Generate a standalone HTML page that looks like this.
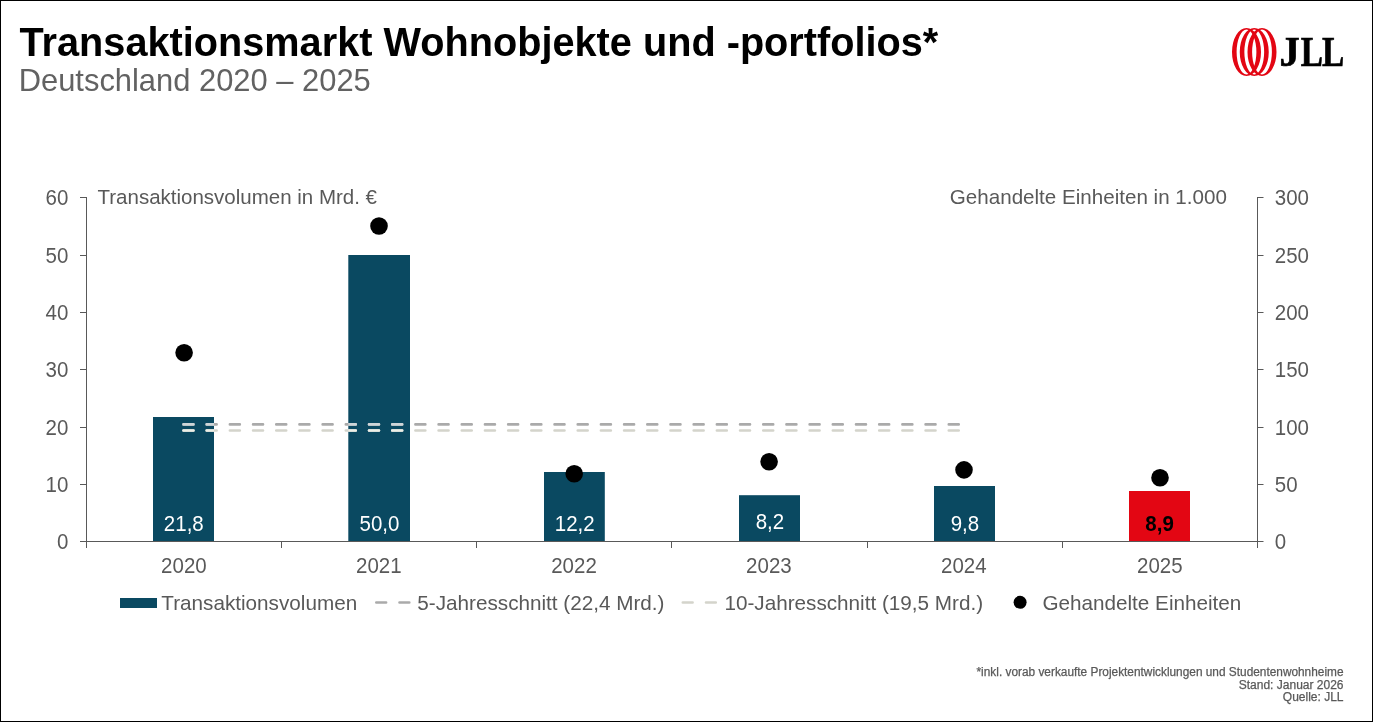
<!DOCTYPE html>
<html lang="de">
<head>
<meta charset="utf-8">
<title>Transaktionsmarkt Wohnobjekte und -portfolios</title>
<style>
html,body{margin:0;padding:0;background:#fff;}
body{width:1373px;height:722px;overflow:hidden;position:relative;font-family:"Liberation Sans",Arial,sans-serif;}
#frame{position:absolute;left:0;top:0;width:1371px;height:720px;border:1px solid #000;}
svg{position:absolute;left:0;top:0;}
svg text{font-family:"Liberation Sans",Arial,sans-serif;}
.ax{fill:#595959;font-size:20.5px;}
.lbl{fill:#fff;font-size:20.5px;}
.lg{fill:#595959;font-size:20.7px;}
.serif{font-family:"Liberation Serif","Times New Roman",serif;}
</style>
</head>
<body>
<div id="frame"></div>
<svg width="1373" height="722" viewBox="0 0 1373 722">
<!-- titles -->
<text transform="translate(19.5 55.7) scale(1 1.025)" font-size="39.7" font-weight="bold" fill="#000">Transaktionsmarkt Wohnobjekte und -portfolios*</text>
<text x="18.7" y="90.8" font-size="30.9" fill="#626262">Deutschland 2020 – 2025</text>
<!-- bars -->
<g fill="#0a4961">
<rect x="153" y="417" width="61" height="124.50"/>
<rect x="348.3" y="255" width="61.7" height="286.50"/>
<rect x="544" y="472" width="60.8" height="69.50"/>
<rect x="739" y="495.2" width="61" height="46.30"/>
<rect x="934" y="486" width="61" height="55.50"/>
</g>
<rect x="1129" y="491" width="61" height="50.50" fill="#e30613"/>
<!-- axes -->
<g stroke="#595959" stroke-width="1" fill="none">
<path d="M86.5 197V548"/>
<path d="M1257.5 197V548"/>
<path d="M80 541.5H1263.5"/>
<path d="M80 197.50H87M80 255.50H87M80 312.50H87M80 369.50H87M80 427.50H87M80 484.50H87"/>
<path d="M1257 197.50H1263.5M1257 255.50H1263.5M1257 312.50H1263.5M1257 369.50H1263.5M1257 427.50H1263.5M1257 484.50H1263.5"/>
<path d="M281.50 541V548M476.50 541V548M671.50 541V548M867.50 541V548M1062.50 541V548"/>
</g>
<!-- average lines -->
<path d="M183.5 424.4H958.8" stroke="#aaaaaa" stroke-width="2.6" stroke-dasharray="9.95 13.24" stroke-linecap="round" fill="none"/>
<path d="M183.5 430.5H958.8" stroke="#d4d4cb" stroke-width="2.6" stroke-dasharray="9.95 13.24" stroke-linecap="round" fill="none"/>
<clipPath id="barclip">
<rect x="153" y="417" width="61" height="124.50"/>
<rect x="348.3" y="255" width="61.7" height="286.50"/>
</clipPath>
<g clip-path="url(#barclip)">
<path d="M183.5 424.4H958.8" stroke="#cdd5d8" stroke-width="2.6" stroke-dasharray="9.95 13.24" stroke-linecap="round" fill="none"/>
<path d="M183.5 430.5H958.8" stroke="#eceee6" stroke-width="2.6" stroke-dasharray="9.95 13.24" stroke-linecap="round" fill="none"/>
</g>
<!-- dots -->
<g fill="#000">
<circle cx="184.1" cy="352.8" r="8.8"/>
<circle cx="379.0" cy="226.0" r="8.8"/>
<circle cx="574.2" cy="473.8" r="8.8"/>
<circle cx="769.1" cy="461.8" r="8.8"/>
<circle cx="964.0" cy="469.85" r="8.8"/>
<circle cx="1160.0" cy="477.8" r="8.8"/>
</g>
<!-- left axis labels -->
<g class="ax" text-anchor="end">
<text transform="translate(68.3 204.85) scale(1 1.045)">60</text>
<text transform="translate(68.3 262.85) scale(1 1.045)">50</text>
<text transform="translate(68.3 319.85) scale(1 1.045)">40</text>
<text transform="translate(68.3 376.85) scale(1 1.045)">30</text>
<text transform="translate(68.3 434.85) scale(1 1.045)">20</text>
<text transform="translate(68.3 491.85) scale(1 1.045)">10</text>
<text transform="translate(68.3 548.85) scale(1 1.045)">0</text>
</g>
<g class="ax" text-anchor="start">
<text transform="translate(1274.8 204.85) scale(1 1.045)">300</text>
<text transform="translate(1274.8 262.85) scale(1 1.045)">250</text>
<text transform="translate(1274.8 319.85) scale(1 1.045)">200</text>
<text transform="translate(1274.8 376.85) scale(1 1.045)">150</text>
<text transform="translate(1274.8 434.85) scale(1 1.045)">100</text>
<text transform="translate(1274.8 491.85) scale(1 1.045)">50</text>
<text transform="translate(1274.8 548.85) scale(1 1.045)">0</text>
</g>
<text class="ax" x="97.5" y="203.7">Transaktionsvolumen in Mrd. €</text>
<text class="ax" x="1226.9" y="203.7" text-anchor="end" style="font-size:20.6px">Gehandelte Einheiten in 1.000</text>
<!-- category labels -->
<g class="ax" text-anchor="middle">
<text transform="translate(183.9 573.0) scale(1 1.045)">2020</text>
<text transform="translate(378.8 573.0) scale(1 1.045)">2021</text>
<text transform="translate(574.0 573.0) scale(1 1.045)">2022</text>
<text transform="translate(768.9 573.0) scale(1 1.045)">2023</text>
<text transform="translate(963.8 573.0) scale(1 1.045)">2024</text>
<text transform="translate(1159.8 573.0) scale(1 1.045)">2025</text>
</g>
<!-- data labels -->
<g class="lbl" text-anchor="middle">
<text transform="translate(183.8 531) scale(1 1.045)">21,8</text>
<text transform="translate(379.5 531) scale(1 1.045)">50,0</text>
<text transform="translate(574.7 531) scale(1 1.045)">12,2</text>
<text transform="translate(769.9 528.9) scale(1 1.045)">8,2</text>
<text transform="translate(964.9 531) scale(1 1.045)">9,8</text>
</g>
<text transform="translate(1159.6 530.8) scale(1 1.045)" text-anchor="middle" font-size="20.5" font-weight="bold" fill="#000">8,9</text>
<!-- legend -->
<rect x="120" y="598" width="37" height="10" fill="#0a4961"/>
<text class="lg" x="161.3" y="609.8">Transaktionsvolumen</text>
<path d="M376.3 602.5H410" stroke="#aaaaaa" stroke-width="2.6" stroke-dasharray="9.8 13.4" stroke-linecap="round"/>
<text class="lg" x="417.3" y="609.8">5-Jahresschnitt (22,4 Mrd.)</text>
<path d="M682.8 602.5H716.5" stroke="#d4d4cb" stroke-width="2.6" stroke-dasharray="9.8 13.4" stroke-linecap="round"/>
<text class="lg" x="724.4" y="609.8">10-Jahresschnitt (19,5 Mrd.)</text>
<circle cx="1020.1" cy="602.3" r="6.5" fill="#000"/>
<text class="lg" x="1042.4" y="609.8">Gehandelte Einheiten</text>
<!-- footnote -->
<g font-size="12" fill="#595959" stroke="#595959" stroke-width="0.25" text-anchor="end">
<text x="1343.5" y="675.8" textLength="367" lengthAdjust="spacingAndGlyphs">*inkl. vorab verkaufte Projektentwicklungen und Studentenwohnheime</text>
<text x="1343.5" y="688.6">Stand: Januar 2026</text>
<text x="1343.5" y="701.4">Quelle: JLL</text>
</g>
<!-- logo -->
<g id="logo">
<path fill="#e30613" fill-rule="evenodd" d="M1232.00 52A14.5 24 0 1 0 1261.00 52A14.5 24 0 1 0 1232.00 52Z M1236.60 52A9.9 22.4 0 1 0 1256.40 52A9.9 22.4 0 1 0 1236.60 52Z"/>
<path fill="#e30613" fill-rule="evenodd" d="M1239.75 52A14.5 24 0 1 0 1268.75 52A14.5 24 0 1 0 1239.75 52Z M1244.35 52A9.9 22.4 0 1 0 1264.15 52A9.9 22.4 0 1 0 1244.35 52Z"/>
<path fill="#e30613" fill-rule="evenodd" d="M1247.50 52A14.5 24 0 1 0 1276.50 52A14.5 24 0 1 0 1247.50 52Z M1252.10 52A9.9 22.4 0 1 0 1271.90 52A9.9 22.4 0 1 0 1252.10 52Z"/>
<g id="jll"><text class="serif" transform="translate(1279.5 65.9) scale(0.95 1)" x="0" y="0" font-size="42.6" font-weight="bold" fill="#000" stroke="#000" stroke-width="0.7">J</text><text class="serif" transform="translate(1300.8 65.9) scale(0.78 1)" x="0" y="0" font-size="42.6" font-weight="bold" fill="#000" stroke="#000" stroke-width="0.7">L</text><text class="serif" transform="translate(1322.0 65.9) scale(0.78 1)" x="0" y="0" font-size="42.6" font-weight="bold" fill="#000" stroke="#000" stroke-width="0.7">L</text></g>
</g>
</svg>
</body>
</html>
